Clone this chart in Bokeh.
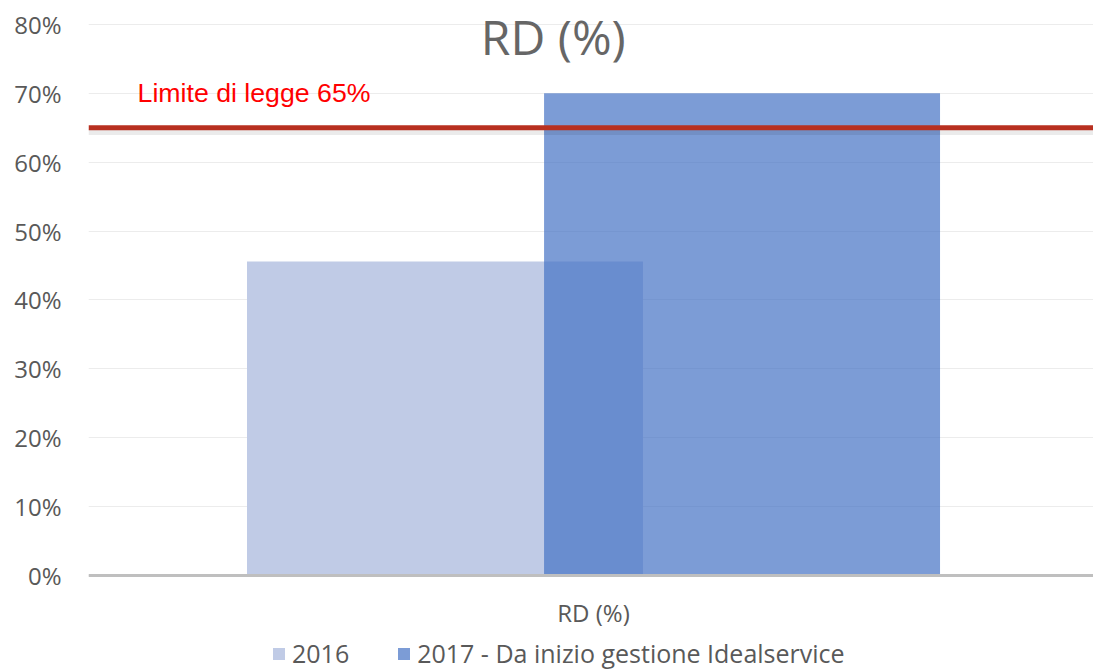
from bokeh.plotting import figure
from bokeh.models import Range1d, FixedTicker, PrintfTickFormatter, Span, Label, Legend, LegendItem
from bokeh.core.properties import value
from bokeh.embed import file_html
from bokeh.resources import INLINE

categories = ["RD (%)"]
series_names = ["2016", "2017 - Da inizio gestione Idealservice"]
values_2016 = [45.6]
values_2017 = [70.0]
limit_value = 65
limit_label = "Limite di legge 65%"
title_text = "RD (%)"
y_ticks = [0, 10, 20, 30, 40, 50, 60, 70, 80]

idx = list(range(len(categories)))
bar_w = 0.394
off = 0.1478

# the frame extends beyond 0..80 so the title, category label and legend sit inside it
p = figure(width=1093, height=670, title=None,
           x_range=Range1d(-0.5025, 0.4975), y_range=Range1d(-13.79, 83.48),
           output_backend="svg", toolbar_location=None,
           min_border_left=88, min_border_right=0, min_border_top=0, min_border_bottom=0)
p.outline_line_color = None
p.background_fill_color = "white"
p.border_fill_color = "white"
p.xaxis.visible = False

p.yaxis.ticker = FixedTicker(ticks=y_ticks)
p.yaxis.formatter = PrintfTickFormatter(format="%d%%")
p.yaxis.axis_line_color = None
p.yaxis.major_tick_line_color = None
p.yaxis.minor_tick_line_color = None
p.yaxis.major_label_text_font = "Open Sans"
p.yaxis.major_label_text_font_size = "24px"
p.yaxis.major_label_text_color = "#595959"
p.yaxis.major_label_standoff = 21

p.xgrid.grid_line_color = None
p.ygrid.grid_line_color = "#ececec"
p.ygrid.grid_line_width = 1

r1 = p.vbar(x=[i - off for i in idx], top=values_2016, width=bar_w,
            fill_color="#c0cbe6", line_color=None)
r2 = p.vbar(x=[i + off for i in idx], top=values_2017, width=bar_w,
            fill_color="#4472c4", fill_alpha=0.7, line_color=None)

# category axis baseline and labels
p.add_layout(Span(location=0, dimension="width", line_color="#bfbfbf", line_width=3))
p.text(x=idx, y=[-5.3] * len(idx), text=categories, text_font=value("Open Sans"),
       text_font_size="24px", text_color="#595959", text_align="center",
       text_baseline="middle")

shadow = Span(location=limit_value - 0.6, dimension="width", line_color="#000000",
              line_alpha=0.08, line_width=6)
limit = Span(location=limit_value, dimension="width", line_color="#b83020", line_width=5)
p.add_layout(shadow)
p.add_layout(limit)

p.add_layout(Label(x=-0.4537, y=70.1, text=limit_label, text_font="Liberation Sans",
                   text_font_size="26.7px", text_color="#ff0000", text_baseline="middle"))
p.add_layout(Label(x=-0.04, y=78.3, text=title_text, text_font="Open Sans",
                   text_font_size="48px", text_color="#666666",
                   text_align="center", text_baseline="middle"))

legend = Legend(items=[LegendItem(label=series_names[0], renderers=[r1]),
                       LegendItem(label=series_names[1], renderers=[r2])],
                location=(183, 0), orientation="horizontal", padding=0, margin=0,
                border_line_color=None, background_fill_alpha=0,
                glyph_width=15, glyph_height=15, label_standoff=6, spacing=47,
                label_text_font="Open Sans", label_text_font_size="25px",
                label_text_color="#595959")
p.add_layout(legend)

open("out.html", "w").write(file_html(p, INLINE))
